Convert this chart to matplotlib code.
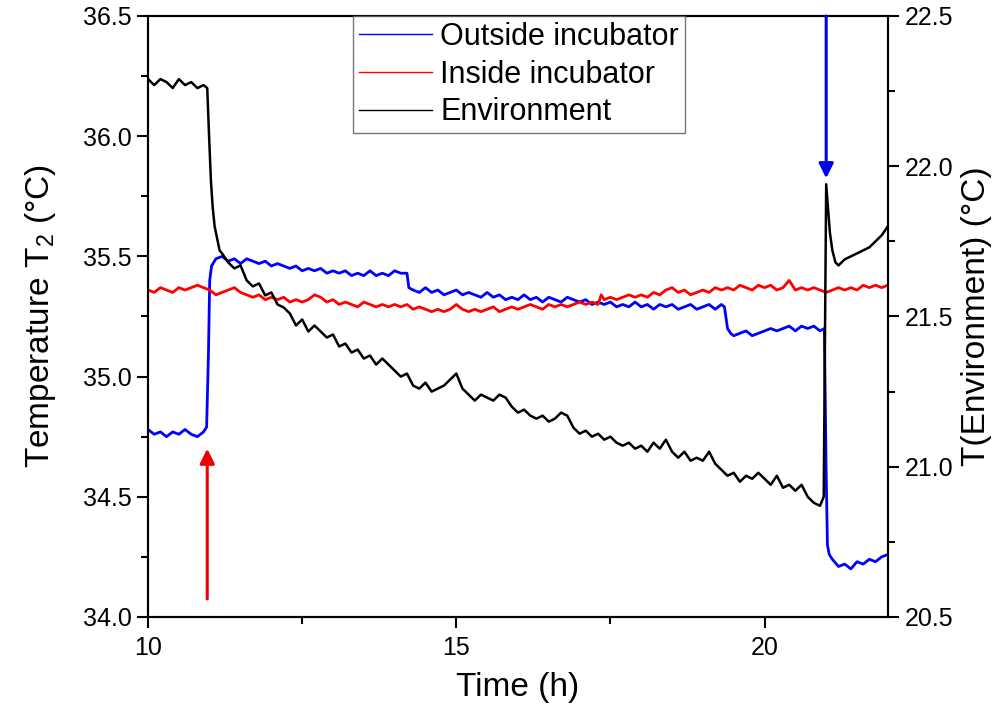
import numpy as np
import matplotlib
matplotlib.use("Agg")
import matplotlib.pyplot as plt
from matplotlib.ticker import MultipleLocator

plt.rcParams['font.family'] = ['Liberation Sans', 'DejaVu Sans']
plt.rcParams['mathtext.fontset'] = 'custom'
plt.rcParams['mathtext.rm'] = 'Liberation Sans'
plt.rcParams['mathtext.it'] = 'Liberation Sans'

# ---------------- data ----------------
# Outside incubator (left axis, °C)
t_out = [10.0, 10.1, 10.2, 10.3, 10.4, 10.5, 10.6, 10.7, 10.8, 10.9, 10.95,
         10.98, 11.0, 11.03, 11.1,
         11.2, 11.3, 11.4, 11.5, 11.6, 11.7, 11.8, 11.9, 12.0, 12.1, 12.2, 12.3, 12.4, 12.5,
         12.6, 12.7, 12.8, 12.9, 13.0, 13.1, 13.2, 13.3, 13.4, 13.5, 13.6, 13.7, 13.8, 13.9,
         14.0, 14.1, 14.2,
         14.23, 14.3, 14.4, 14.5, 14.6, 14.7, 14.8, 14.9, 15.0, 15.1, 15.2, 15.3, 15.4, 15.5,
         15.6, 15.7, 15.8, 15.9, 16.0, 16.1, 16.2, 16.3, 16.4, 16.5, 16.6, 16.7, 16.8, 16.9,
         17.0, 17.1, 17.2, 17.3, 17.4, 17.5, 17.6, 17.7, 17.8, 17.9, 18.0, 18.1, 18.2, 18.3,
         18.4, 18.5, 18.6, 18.7, 18.8, 18.9, 19.0, 19.1, 19.2, 19.3, 19.35,
         19.4, 19.45, 19.5, 19.6, 19.7, 19.8, 19.9, 20.0, 20.1, 20.2, 20.3, 20.4, 20.5, 20.6,
         20.7, 20.8, 20.9, 20.97,
         21.0, 21.02, 21.05, 21.1, 21.2, 21.3, 21.4, 21.5, 21.6, 21.7, 21.8, 21.9, 22.0]
v_out = [34.78, 34.76, 34.77, 34.75, 34.77, 34.76, 34.78, 34.76, 34.75, 34.77, 34.79,
         35.10, 35.40, 35.46, 35.49,
         35.50, 35.48, 35.49, 35.47, 35.49, 35.48, 35.47, 35.48, 35.46, 35.47, 35.46, 35.45, 35.46, 35.44,
         35.45, 35.44, 35.45, 35.43, 35.44, 35.43, 35.44, 35.42, 35.43, 35.42, 35.44, 35.42, 35.43, 35.42,
         35.44, 35.43, 35.43,
         35.37, 35.36, 35.35, 35.37, 35.35, 35.36, 35.34, 35.35, 35.36, 35.34, 35.35, 35.34, 35.33, 35.35,
         35.33, 35.34, 35.32, 35.33, 35.32, 35.34, 35.32, 35.33, 35.31, 35.33, 35.32, 35.31, 35.33, 35.32,
         35.31, 35.32, 35.30, 35.31, 35.30, 35.31, 35.29, 35.30, 35.29, 35.31, 35.29, 35.30, 35.28, 35.30,
         35.29, 35.30, 35.28, 35.29, 35.30, 35.28, 35.29, 35.30, 35.28, 35.30, 35.29,
         35.20, 35.18, 35.17, 35.18, 35.19, 35.17, 35.18, 35.19, 35.20, 35.19, 35.20, 35.21, 35.19, 35.21,
         35.20, 35.21, 35.19, 35.20,
         34.60, 34.30, 34.26, 34.24, 34.21, 34.22, 34.20, 34.23, 34.22, 34.24, 34.23, 34.25, 34.26]

# Inside incubator (left axis, °C)
t_in = [10.0, 10.1, 10.2, 10.3, 10.4, 10.5, 10.6, 10.7, 10.8, 10.9, 11.0, 11.1, 11.2, 11.3,
        11.4, 11.5, 11.6, 11.7, 11.8, 11.9, 12.0, 12.1, 12.2, 12.3, 12.4, 12.5, 12.6, 12.7,
        12.8, 12.9, 13.0, 13.1, 13.2, 13.3, 13.4, 13.5, 13.6, 13.7, 13.8, 13.9, 14.0, 14.1,
        14.2, 14.3, 14.4, 14.5, 14.6, 14.7, 14.8, 14.9, 15.0, 15.1, 15.2, 15.3, 15.4, 15.5,
        15.6, 15.7, 15.8, 15.9, 16.0, 16.1, 16.2, 16.3, 16.4, 16.5, 16.6, 16.7, 16.8, 16.9,
        17.0, 17.1, 17.2, 17.3, 17.35, 17.4, 17.5, 17.6, 17.7, 17.8, 17.9, 18.0, 18.1, 18.2,
        18.3, 18.4, 18.5, 18.6, 18.7, 18.8, 18.9, 19.0, 19.1, 19.2, 19.3, 19.4, 19.5, 19.6,
        19.7, 19.8, 19.9, 20.0, 20.1, 20.2, 20.3, 20.4, 20.5, 20.6, 20.7, 20.8, 20.9, 21.0,
        21.1, 21.2, 21.3, 21.4, 21.5, 21.6, 21.7, 21.8, 21.9, 22.0]
v_in = [35.36, 35.35, 35.37, 35.36, 35.35, 35.37, 35.36, 35.37, 35.38, 35.37, 35.36, 35.34, 35.35, 35.36,
        35.37, 35.35, 35.34, 35.33, 35.34, 35.32, 35.33, 35.32, 35.33, 35.31, 35.32, 35.31, 35.32, 35.34,
        35.33, 35.31, 35.32, 35.30, 35.31, 35.30, 35.29, 35.31, 35.30, 35.29, 35.30, 35.29, 35.30, 35.29,
        35.30, 35.28, 35.29, 35.28, 35.27, 35.28, 35.27, 35.28, 35.30, 35.28, 35.27, 35.28, 35.27, 35.28,
        35.29, 35.27, 35.28, 35.29, 35.28, 35.29, 35.30, 35.29, 35.28, 35.30, 35.29, 35.30, 35.29, 35.30,
        35.31, 35.30, 35.31, 35.30, 35.34, 35.32, 35.33, 35.32, 35.33, 35.34, 35.33, 35.34, 35.33, 35.35,
        35.34, 35.36, 35.37, 35.35, 35.36, 35.34, 35.35, 35.36, 35.35, 35.37, 35.36, 35.37, 35.36, 35.38,
        35.37, 35.36, 35.38, 35.37, 35.38, 35.36, 35.37, 35.40, 35.36, 35.37, 35.36, 35.37, 35.36, 35.35,
        35.36, 35.37, 35.36, 35.37, 35.36, 35.38, 35.37, 35.38, 35.37, 35.38]

# Environment (right axis, °C)
t_env = [10.0, 10.1, 10.2, 10.3, 10.4, 10.5, 10.6, 10.7, 10.8, 10.9, 10.96,
         10.99, 11.02, 11.05, 11.08, 11.12, 11.16, 11.2,
         11.3, 11.4, 11.5, 11.6, 11.7, 11.8, 11.9, 12.0, 12.1, 12.2, 12.3, 12.4, 12.5, 12.6,
         12.7, 12.8, 12.9, 13.0, 13.1, 13.2, 13.3, 13.4, 13.5, 13.6, 13.7, 13.8, 13.9, 14.0,
         14.1, 14.2, 14.3, 14.4, 14.5, 14.6, 14.7, 14.8, 14.9, 15.0, 15.1, 15.2, 15.3, 15.4,
         15.5, 15.6, 15.7, 15.8, 15.9, 16.0, 16.1, 16.2, 16.3, 16.4, 16.5, 16.6, 16.7, 16.8,
         16.9, 17.0, 17.1, 17.2, 17.3, 17.4, 17.5, 17.6, 17.7, 17.8, 17.9, 18.0, 18.1, 18.2,
         18.3, 18.4, 18.5, 18.6, 18.7, 18.8, 18.9, 19.0, 19.1, 19.2, 19.3, 19.4, 19.5, 19.6,
         19.7, 19.8, 19.9, 20.0, 20.1, 20.2, 20.3, 20.4, 20.5, 20.6, 20.7, 20.8, 20.9, 20.96,
         21.0, 21.03, 21.06, 21.1, 21.15, 21.2, 21.3, 21.4, 21.5, 21.6, 21.7, 21.8, 21.9, 22.0]
v_env = [22.29, 22.27, 22.29, 22.28, 22.26, 22.29, 22.27, 22.28, 22.26, 22.27, 22.26,
         22.10, 21.95, 21.86, 21.80, 21.76, 21.72, 21.71,
         21.68, 21.66, 21.67, 21.62, 21.60, 21.61, 21.57, 21.58, 21.54, 21.53, 21.51, 21.47, 21.49, 21.45,
         21.47, 21.45, 21.43, 21.44, 21.40, 21.41, 21.38, 21.39, 21.36, 21.37, 21.34, 21.36, 21.34, 21.32,
         21.30, 21.31, 21.27, 21.26, 21.28, 21.25, 21.26, 21.27, 21.29, 21.31, 21.26, 21.24, 21.22, 21.24,
         21.23, 21.22, 21.24, 21.23, 21.20, 21.18, 21.19, 21.17, 21.16, 21.17, 21.15, 21.16, 21.18, 21.17,
         21.13, 21.11, 21.12, 21.10, 21.11, 21.09, 21.10, 21.08, 21.07, 21.08, 21.06, 21.07, 21.05, 21.08,
         21.06, 21.09, 21.05, 21.03, 21.05, 21.02, 21.03, 21.02, 21.05, 21.01, 20.99, 20.97, 20.98, 20.95,
         20.97, 20.96, 20.98, 20.96, 20.94, 20.97, 20.93, 20.94, 20.92, 20.94, 20.90, 20.88, 20.87, 20.90,
         21.94, 21.86, 21.78, 21.72, 21.68, 21.67, 21.69, 21.70, 21.71, 21.72, 21.73, 21.75, 21.77, 21.80]

labels = ["Outside incubator", "Inside incubator", "Environment"]
colors = ["#0000ff", "#ff0000", "#000000"]

# ---------------- figure ----------------
fig = plt.figure(figsize=(9.97, 7.10), dpi=100)
ax = fig.add_axes([0.1485, 0.131, 0.742, 0.8465])
ax2 = ax.twinx()

l1, = ax.plot(t_out, v_out, color=colors[0], lw=2.0)
l2, = ax.plot(t_in, v_in, color=colors[1], lw=2.0)
l3, = ax2.plot(t_env, v_env, color=colors[2], lw=1.8)

ax.set_xlim(10, 22)
ax.set_ylim(34.0, 36.5)
ax2.set_ylim(20.5, 22.5)

ax.xaxis.set_major_locator(MultipleLocator(5))
ax.xaxis.set_minor_locator(MultipleLocator(2.5))
ax.yaxis.set_major_locator(MultipleLocator(0.5))
ax.yaxis.set_minor_locator(MultipleLocator(0.25))
ax2.yaxis.set_major_locator(MultipleLocator(0.5))
ax2.yaxis.set_minor_locator(MultipleLocator(0.25))
ax.yaxis.set_major_formatter(plt.FormatStrFormatter('%.1f'))
ax2.yaxis.set_major_formatter(plt.FormatStrFormatter('%.1f'))

for a in (ax, ax2):
    for s in a.spines.values():
        s.set_linewidth(1.5)
    a.tick_params(which='major', direction='out', length=8, width=1.5, labelsize=18, colors='black')
    a.tick_params(which='minor', direction='out', length=5, width=1.5)
ax.tick_params(axis='x', which='both', top=False, pad=6)
ax.tick_params(axis='y', which='both', right=False, pad=4)
ax2.tick_params(axis='y', which='both', left=False, right=True, pad=4)

ax.set_xlabel("Time (h)", fontsize=24, labelpad=8)
ax.set_ylabel("Temperature T$_2$ (°C)", fontsize=24, labelpad=18)
ax2.set_ylabel("T(Environment) (°C)", fontsize=24, labelpad=6)

# arrows (drawn in right-axis data coordinates)
ax2.annotate("", xy=(10.96, 21.06), xytext=(10.96, 20.56),
             arrowprops=dict(arrowstyle='-|>', color='#ee0000', lw=2.2, mutation_scale=22,
                             shrinkA=0, shrinkB=0))
ax2.annotate("", xy=(21.0, 21.96), xytext=(21.0, 22.5),
             arrowprops=dict(arrowstyle='-|>', color='#0000ee', lw=2.2, mutation_scale=22,
                             shrinkA=0, shrinkB=0), annotation_clip=False)

leg = ax2.legend([l1, l2, l3], labels, loc='upper left', bbox_to_anchor=(0.277, 1.0),
                 fontsize=22, frameon=True, fancybox=False, handlelength=2.4,
                 borderaxespad=0.0, borderpad=0.2, labelspacing=0.25, handletextpad=0.25)
leg.get_frame().set_edgecolor('#555555')
leg.get_frame().set_linewidth(1.0)
for h in leg.get_lines():
    h.set_linewidth(1.0)

fig.savefig("out.png", dpi=100)
